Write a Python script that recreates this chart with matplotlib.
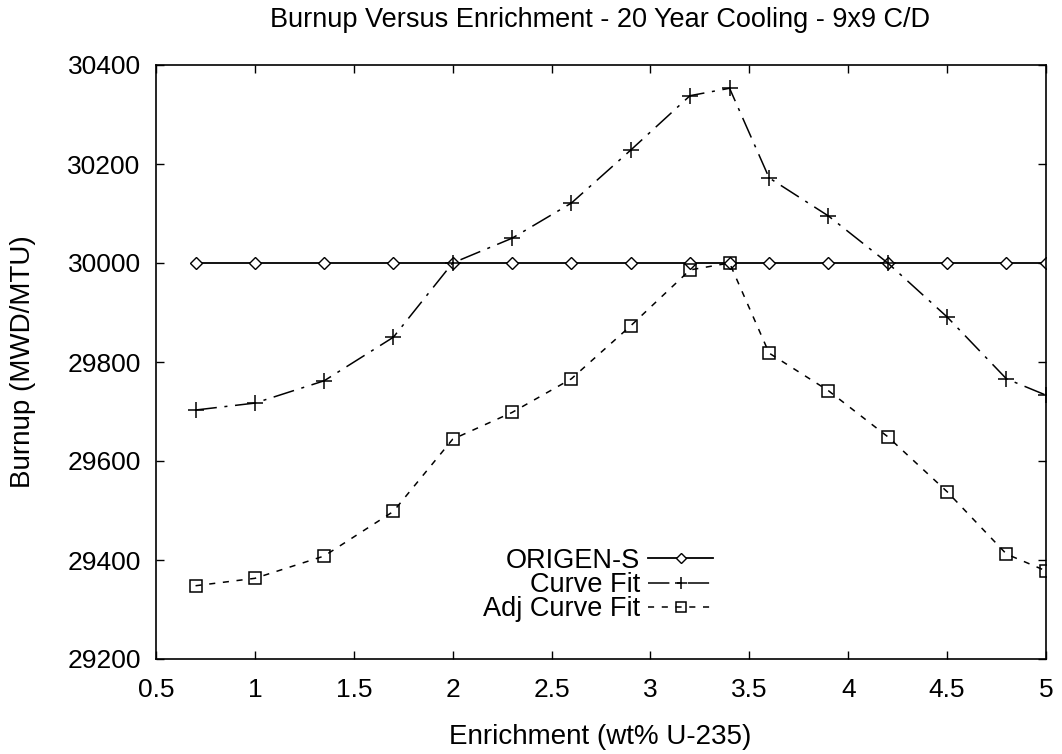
import matplotlib
matplotlib.use("Agg")
import matplotlib.pyplot as plt

plt.rcParams['font.family'] = ['Liberation Sans', 'DejaVu Sans']

enrichment = [0.7, 1.0, 1.35, 1.7, 2.0, 2.3, 2.6, 2.9, 3.2, 3.4, 3.6, 3.9, 4.2, 4.5, 4.8, 5.0]
origen = [30000] * 16
curve_fit = [29703, 29717, 29762, 29850, 30000, 30050, 30121, 30228, 30338, 30353,
             30172, 30095, 30000, 29891, 29766, 29733]
adj_curve_fit = [29348, 29363, 29408, 29498, 29644, 29698, 29766, 29873, 29986, 30000,
                 29818, 29742, 29649, 29538, 29412, 29378]

xticks = [0.5, 1, 1.5, 2, 2.5, 3, 3.5, 4, 4.5, 5]
xticklabels = ['0.5', '1', '1.5', '2', '2.5', '3', '3.5', '4', '4.5', '5']
yticks = [29200, 29400, 29600, 29800, 30000, 30200, 30400]

W, H = 1062, 754
fig = plt.figure(figsize=(W / 100, H / 100), dpi=100)
L, R, T, B = 156, 1046, 65, 659
ax = fig.add_axes([L / W, 1 - B / H, (R - L) / W, (B - T) / H])

ax.plot(enrichment, origen, color='black', lw=1.3, marker='D', markersize=6.5,
        markerfacecolor='white', markeredgecolor='black', markeredgewidth=1.0,
        label='ORIGEN-S')
ax.plot(enrichment, curve_fit, color='black', lw=1.1, linestyle=(0, (14, 5, 2, 5)),
        marker='+', markersize=11, markeredgewidth=1.1, label='Curve Fit')
ax.plot(enrichment, adj_curve_fit, color='black', lw=1.1, linestyle=(0, (4, 5)),
        marker='s', markersize=9, markerfacecolor='none', markeredgecolor='black',
        markeredgewidth=1.1, label='Adj Curve Fit')

ax.set_xlim(0.5, 5)
ax.set_ylim(29200, 30400)
ax.set_xticks(xticks)
ax.set_xticklabels(xticklabels)
ax.set_yticks(yticks)
ax.tick_params(direction='in', top=True, right=True, labelsize=19, length=6, width=1)
ax.tick_params(axis='x', pad=14)
ax.tick_params(axis='y', pad=11)
for s in ax.spines.values():
    s.set_linewidth(1.2)

ax.set_xlabel('Enrichment (wt% U-235)', fontsize=20)
ax.xaxis.set_label_coords((600 - L) / (R - L), (B - 724) / (B - T))
ax.set_ylabel('Burnup (MWD/MTU)', fontsize=20)
ax.yaxis.set_label_coords((36 - L) / (R - L), 0.5)

fig.text(600 / W, 1 - 27 / H, 'Burnup Versus Enrichment - 20 Year Cooling - 9x9 C/D',
         fontsize=19.5, ha='center', va='baseline')

leg = ax.legend(loc='center right',
                bbox_to_anchor=((713 - L) / (R - L), (B - 585) / (B - T)),
                frameon=False, markerfirst=False, fontsize=19.5,
                handlelength=2.4, handletextpad=0.3, labelspacing=-0.06,
                borderaxespad=0, borderpad=0)
leg._legend_box.align = 'right'
for h in leg.legend_handles:
    h.set_markersize(h.get_markersize() * 0.8)

fig.savefig('out.png', dpi=100)
